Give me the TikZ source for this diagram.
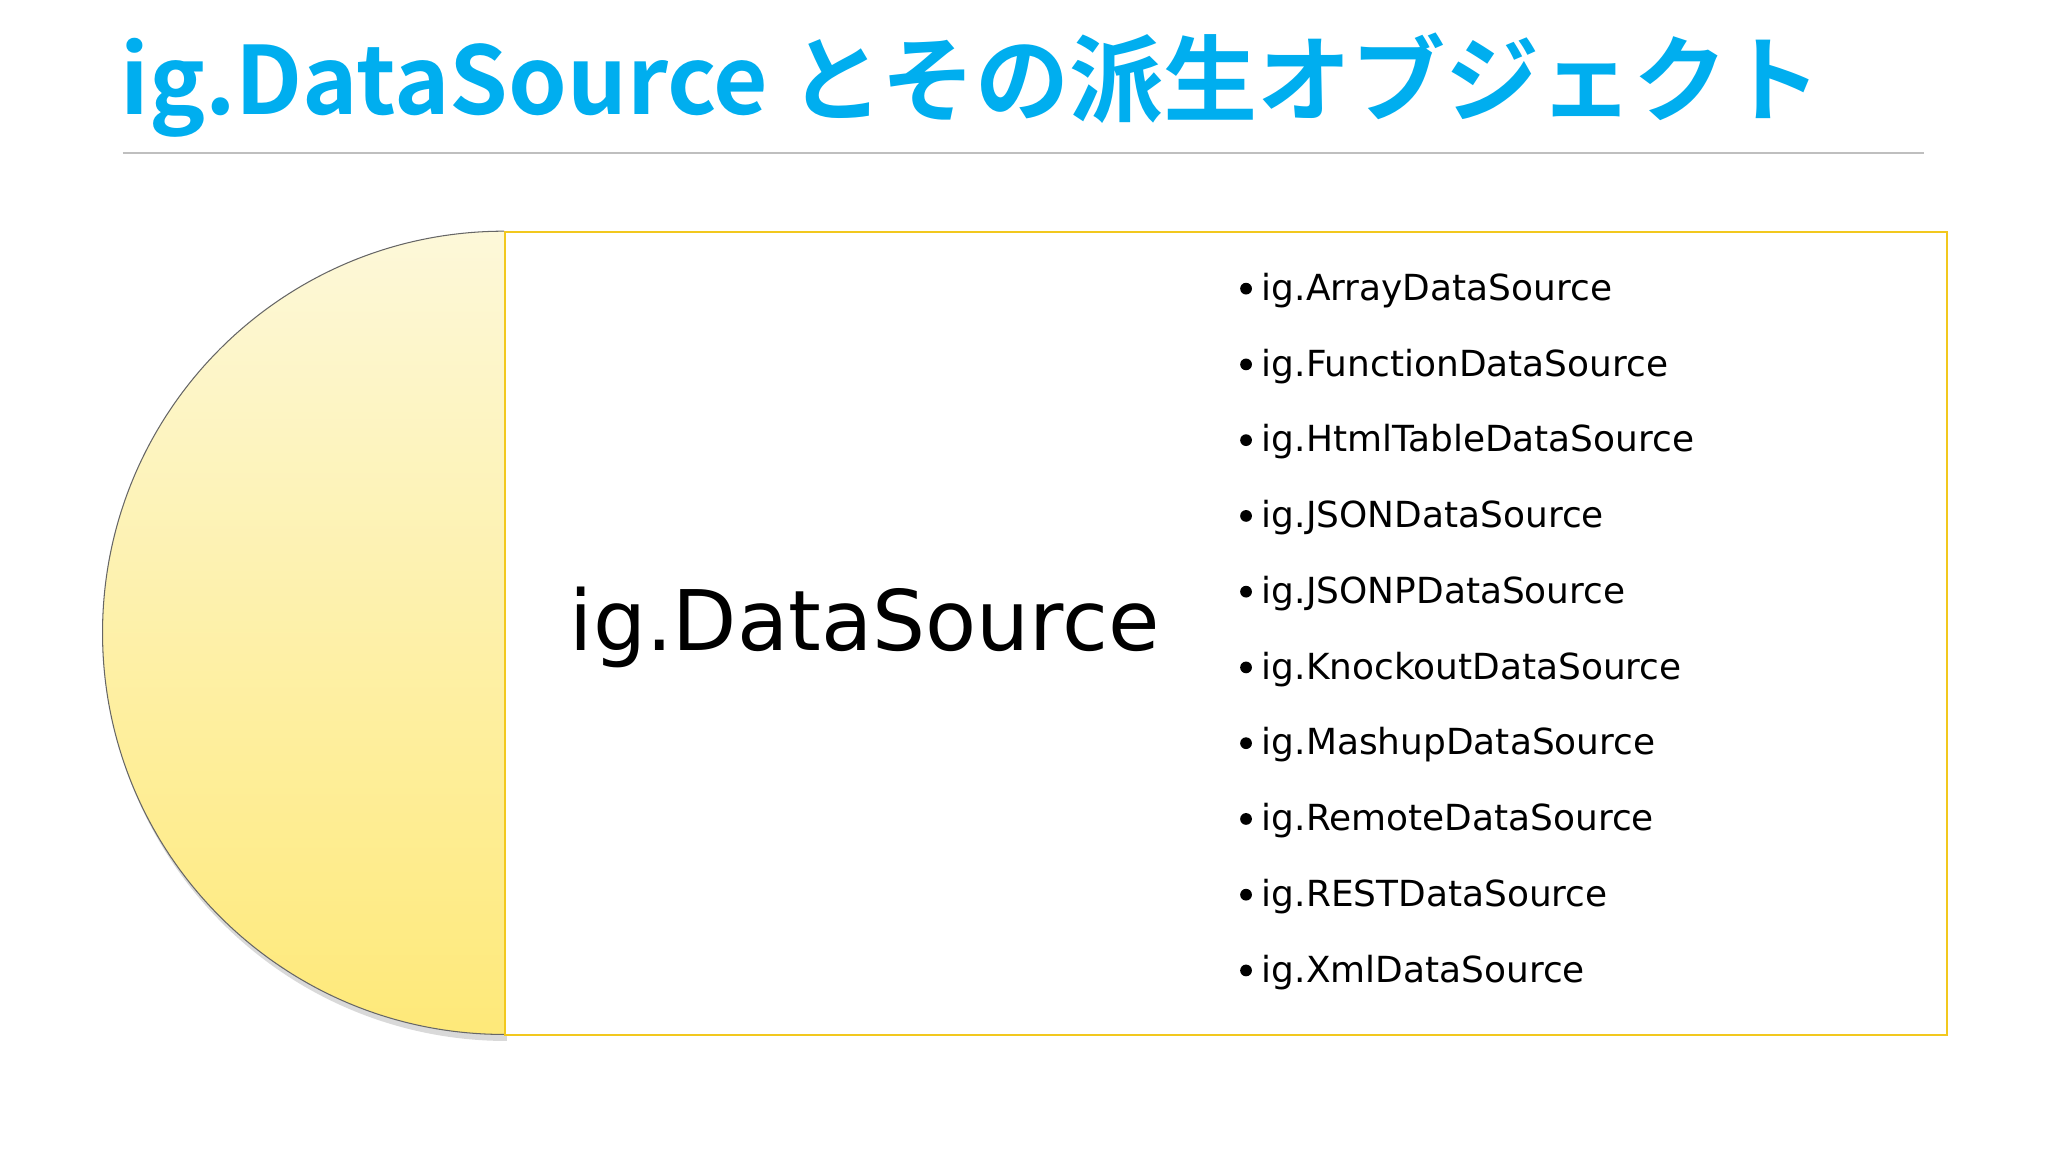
\documentclass[tikz,border=0pt]{standalone}
\usepackage{fontspec}
\setmainfont{DejaVu Sans}
\newfontfamily\jpfont{Noto Sans CJK JP}[BoldFont={* Bold}]
\definecolor{ttl}{HTML}{00AEEF}
\definecolor{ybord}{HTML}{F2C81E}
\definecolor{ytop}{HTML}{FDF8D9}
\definecolor{ybot}{HTML}{FEE979}
\begin{document}
\begin{tikzpicture}[x=1pt,y=-1pt,
  item/.style={anchor=base west,font=\fontsize{27.5}{30}\selectfont,inner sep=0pt}]
\useasboundingbox (0,0) rectangle (1568,882);
\fill[white] (0,0) rectangle (1568,882);
\node[anchor=base west,inner sep=0pt,text=ttl,font=\jpfont\bfseries\fontsize{72}{76}\selectfont] (title) at (92,88) {ig.DataSource とその派生オブジェクト};
\coordinate (l1) at (94,117); \coordinate (l2) at (1473,117);
\draw[gray!50,line width=1.2pt] (l1) -- (l2);
% shadow
\fill[black,opacity=0.15] (388,181) arc[start angle=270,end angle=90,radius=308] -- cycle;
\shade[top color=ytop,bottom color=ybot] (386,177) arc[start angle=270,end angle=90,radius=307.5] -- cycle;
\draw[gray!80!black,line width=0.8pt] (386,177) arc[start angle=270,end angle=90,radius=307.5];
\node[draw=ybord,fill=white,line width=1.2pt,minimum width=1104pt,minimum height=615pt,anchor=north west,inner sep=0pt] (box) at (386,177) {};
\node[font=\fontsize{64}{70}\selectfont,inner sep=0pt] (main) at (662,480) {ig.DataSource};
\foreach \t [count=\i from 0] in {ig.ArrayDataSource,ig.FunctionDataSource,ig.HtmlTableDataSource,ig.JSONDataSource,ig.JSONPDataSource,ig.KnockoutDataSource,ig.MashupDataSource,ig.RemoteDataSource,ig.RESTDataSource,ig.XmlDataSource}{
  \fill (954,{221+58*\i}) circle[radius=4.5];
  \node[item] (it\i) at (966,{230+58*\i}) {\t};
}
\end{tikzpicture}
\end{document}
